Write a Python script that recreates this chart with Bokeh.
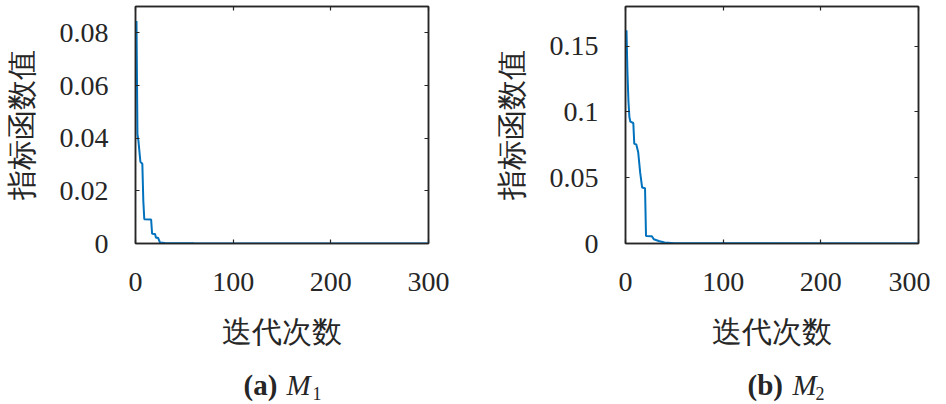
from bokeh.plotting import figure
from bokeh.layouts import row, column
from bokeh.models import Range1d, FixedTicker, LinearAxis, Label
from bokeh.embed import file_html
from bokeh.resources import INLINE

# ---------------- data ----------------
iter_a = [1, 2, 3, 5, 7, 8, 9, 16, 17, 20, 21, 23, 25, 30, 60, 300]
val_a = [0.0845, 0.0415, 0.039, 0.031, 0.0303, 0.0162, 0.0092, 0.0091,
         0.0037, 0.0036, 0.0022, 0.0022, 0.0004, 0.0002, 0.00005, 0.00001]

iter_b = [1, 2, 3, 4, 5, 8, 9, 11, 13, 15, 17, 20, 21, 27, 29, 34, 40, 50, 300]
val_b = [0.162, 0.13, 0.108, 0.096, 0.0925, 0.0915, 0.0757, 0.0753, 0.0693,
         0.054, 0.0426, 0.042, 0.0057, 0.0055, 0.0032, 0.0019, 0.0008, 0.0002, 0.00002]

x_ticks = [0, 100, 200, 300]
x_tick_labels = ["0", "100", "200", "300"]
y_ticks_a = [0, 0.02, 0.04, 0.06, 0.08]
y_tick_labels_a = ["0", "0.02", "0.04", "0.06", "0.08"]
y_ticks_b = [0, 0.05, 0.1, 0.15]
y_tick_labels_b = ["0", "0.05", "0.1", "0.15"]
y_max_a = 0.09
y_max_b = 0.18
x_label = "迭代次数"
y_label = "指标函数值"
captions = [("(a)", "M", "1"), ("(b)", "M", "2")]

AX = "#262626"
LINE = "#0072BD"
SERIF = "Liberation Serif"
CJK_LABEL = "Liberation Serif"   # CJK glyphs come from the system fallback
MAIN_H = 352
CAP_H = 52


def style_axis(ax, ticks, labels=None, hide=False):
    ax.ticker = FixedTicker(ticks=ticks)
    ax.major_tick_in = 4
    ax.major_tick_out = 0
    ax.minor_tick_line_color = None
    ax.major_tick_line_color = AX
    ax.major_tick_line_width = 1.2
    ax.axis_line_color = AX
    ax.axis_line_width = 1.5
    if hide:
        ax.major_label_text_font_size = "1px"
        ax.major_label_text_color = None
        ax.major_label_standoff = 0
    else:
        ax.major_label_overrides = {t: l for t, l in zip(ticks, labels)}
        ax.major_label_text_font = SERIF
        ax.major_label_text_font_size = "28px"
        ax.major_label_text_color = AX


def make(iters, vals, yticks, ylabels, ymax, w, bl, br):
    p = figure(width=w, height=MAIN_H, output_backend="svg", toolbar_location=None,
               x_range=Range1d(0, 300), y_range=Range1d(0, ymax),
               min_border_left=bl, min_border_right=br,
               min_border_top=6, min_border_bottom=MAIN_H - 243)
    p.grid.visible = False
    p.outline_line_color = AX
    p.outline_line_width = 1.5

    style_axis(p.xaxis[0], x_ticks, x_tick_labels)
    style_axis(p.yaxis[0], yticks, ylabels)
    p.xaxis[0].major_label_standoff = 29
    p.yaxis[0].major_label_standoff = 27

    for ax, lab in ((p.xaxis[0], x_label), (p.yaxis[0], y_label)):
        ax.axis_label = lab
        ax.axis_label_text_font = CJK_LABEL
        ax.axis_label_text_font_size = "30px"
        ax.axis_label_text_font_style = "normal"
        ax.axis_label_text_color = AX
    p.xaxis[0].axis_label_standoff = 21
    p.yaxis[0].axis_label_standoff = 19

    top = LinearAxis()
    style_axis(top, x_ticks, hide=True)
    p.add_layout(top, "above")
    right = LinearAxis()
    style_axis(right, yticks, hide=True)
    p.add_layout(right, "right")

    p.line(iters, vals, line_color=LINE, line_width=2)
    return p


def caption(cap, w, xa, xm, xs):
    c = figure(width=w, height=CAP_H, output_backend="svg", toolbar_location=None,
               x_range=Range1d(0, w), y_range=Range1d(0, CAP_H),
               min_border=0, outline_line_color=None)
    c.axis.visible = False
    c.grid.visible = False
    a, m, s = cap
    c.add_layout(Label(x=xa, y=20, text=a, text_font=SERIF, text_font_size="29px",
                       text_font_style="bold", text_color=AX, text_baseline="alphabetic"))
    c.add_layout(Label(x=xm, y=20, text=m, text_font=SERIF, text_font_size="29px",
                       text_font_style="italic", text_color=AX, text_baseline="alphabetic"))
    c.add_layout(Label(x=xs, y=11, text=s, text_font=SERIF, text_font_size="18px",
                       text_font_style="normal", text_color=AX, text_baseline="alphabetic"))
    return c


p1 = make(iter_a, val_a, y_ticks_a, y_tick_labels_a, y_max_a, 490, 135, 62)
p2 = make(iter_b, val_b, y_ticks_b, y_tick_labels_b, y_max_b, 440, 135, 12)
c1 = caption(captions[0], 490, 243, 286, 312)
c2 = caption(captions[1], 440, 257, 302, 325)

layout = column(row(p1, p2), row(c1, c2))
open("out.html", "w").write(file_html(layout, INLINE))
